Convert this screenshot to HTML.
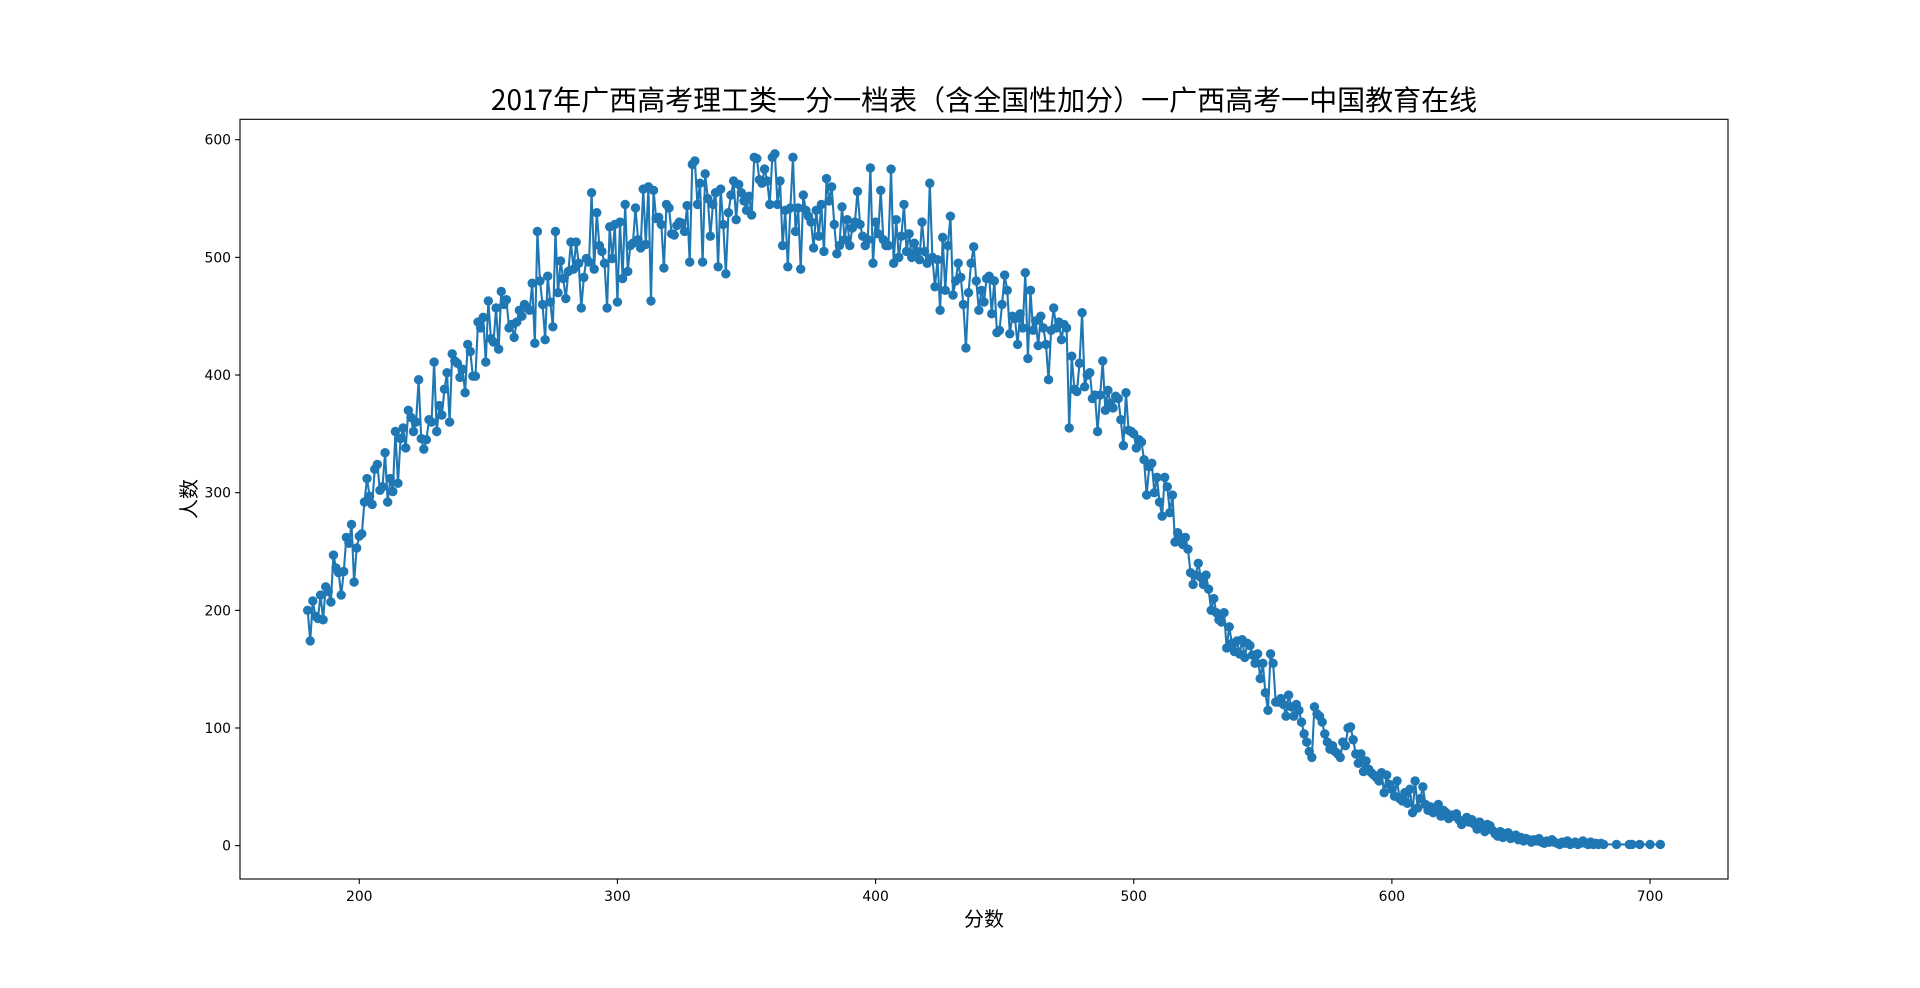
<!DOCTYPE html>
<html><head><meta charset="utf-8">
<style>
html,body{margin:0;padding:0;background:#fff;}
svg{display:block;}
text{font-family:"DejaVu Sans","Liberation Sans","Noto Sans CJK SC",sans-serif;fill:#000;}
.cjk{font-family:"Noto Sans CJK SC","WenQuanYi Zen Hei",sans-serif;}
</style></head>
<body>
<svg id="chart" width="1920" height="988" xmlns="http://www.w3.org/2000/svg">
<rect width="1920" height="988" fill="#fff"/>
<text class="cjk" x="984" y="110" font-size="28" text-anchor="middle">2017年广西高考理工类一分一档表（含全国性加分）一广西高考一中国教育在线</text>
<g id="plot"></g>
<rect x="240" y="119.3" width="1488" height="759.7" fill="none" stroke="#000" stroke-width="1.1"/>
<text class="cjk" x="984" y="926" font-size="20" text-anchor="middle">分数</text>
<text class="cjk" x="196" y="499" font-size="20" text-anchor="middle" transform="rotate(-90 196 499)">人数</text>
</svg>
<script>
const startScore = 180;
const mainValues = [
200,174,208,195,193,213,192,220,216,207,
247,236,232,213,233,262,257,273,224,253,
263,265,292,312,297,290,320,324,302,305,
334,292,312,301,352,308,346,355,338,370,
364,352,360,396,346,337,345,362,360,411,
352,374,366,388,402,360,418,412,410,398,
405,385,426,420,399,399,445,440,449,411,
463,431,428,457,422,471,460,464,440,443,
432,445,455,450,460,457,455,478,427,522,
480,460,430,484,462,441,522,470,497,482,
465,488,513,490,513,495,457,483,499,496,
555,490,538,510,505,495,457,526,499,528,
462,530,482,545,488,510,512,542,515,508,
558,511,560,463,557,533,534,528,491,545,
542,520,519,527,530,529,522,544,496,579,
582,545,563,496,571,550,518,545,555,492,
558,528,486,538,553,565,532,562,555,548,
540,552,536,585,584,566,563,575,565,545,
585,588,545,565,510,540,492,542,585,522,
542,490,553,540,535,530,508,540,518,545,
505,567,548,560,528,503,510,543,515,532,
510,525,530,556,528,518,510,515,576,495,
530,520,557,515,510,510,575,495,532,500,
518,545,505,520,500,512,505,498,530,505,
495,563,500,475,498,455,517,472,510,535,
468,480,495,483,460,423,470,495,509,480,
455,472,462,482,484,452,480,436,438,460,
485,472,435,450,448,426,452,440,487,414,
472,438,446,425,450,440,426,396,438,457,
440,445,430,443,440,355,416,388,386,410,
453,390,400,402,380,383,352,383,412,370,
387,376,372,382,380,362,340,385,353,352,
350,338,345,343,328,298,322,325,300,313,
292,280,313,305,283,298,258,266,262,256,
262,252,232,222,230,240,228,222,230,218,
200,210,198,192,190,198,168,186,172,165,
174,163,175,160,172,170,162,155,163,142,
155,130,115,163,155,122,122,125,120,110,
128,118,110,120,115,105,95,88,80,75,
118,112,110,105,95,88,82,85,80,78,
75,88,85,100,101,90,78,70,78,63,
72,65,62,60,58,55,62,45,60,52,
48,42,55,40,38,45,36,48,28,55,
32,40,50,35,30,33,28,30,35,25,
30,28,23,26,25,27,22,18,20,24,
20,22,18,14,20,15,12,18,17,13,
10,8,12,7,10,11,6,8,9,5,
7,4,6,5,3,5,4,6,3,2,
4,3,5,3,2,1,3,2,4,1,
2,3,1,2,4,2,1,3,1,2,
1,2,1
];
const tailScores = [687,692,693,696,700,704];
const tailValues = [1,1,1,1,1,1];
const xTicks = [200,300,400,500,600,700];
const yTicks = [0,100,200,300,400,500,600];

const NS = "http://www.w3.org/2000/svg";
const plot = document.getElementById('plot');
const scores = mainValues.map((v,i)=>startScore+i).concat(tailScores);
const values = mainValues.concat(tailValues);
const AX = {left:240,right:1728,top:119.3,bottom:879};
const xmin0=Math.min(...scores), xmax0=Math.max(...scores);
const ymin0=Math.min(...values), ymax0=Math.max(...values);
const xs=(xmax0-xmin0)*0.05, ys=(ymax0-ymin0)*0.05;
const xlo=xmin0-xs, xhi=xmax0+xs, ylo=ymin0-ys, yhi=ymax0+ys;
function xScale(v){return AX.left+(v-xlo)/(xhi-xlo)*(AX.right-AX.left);}
function yScale(v){return AX.bottom-(v-ylo)/(yhi-ylo)*(AX.bottom-AX.top);}

xTicks.forEach(t=>{
  const x=xScale(t);
  const l=document.createElementNS(NS,'line');
  l.setAttribute('x1',x);l.setAttribute('x2',x);l.setAttribute('y1',AX.bottom);l.setAttribute('y2',AX.bottom+4.9);
  l.setAttribute('stroke','#000');l.setAttribute('stroke-width','1.1');
  
  
  plot.appendChild(l);
  const tx=document.createElementNS(NS,'text');
  tx.setAttribute('x',x);tx.setAttribute('y',AX.bottom+22);tx.setAttribute('font-size','13.9');tx.setAttribute('text-anchor','middle');
  tx.textContent=t;
  
  
  plot.appendChild(tx);
});
yTicks.forEach(t=>{
  const y=yScale(t);
  const l=document.createElementNS(NS,'line');
  l.setAttribute('x1',AX.left-4.9);l.setAttribute('x2',AX.left);l.setAttribute('y1',y);l.setAttribute('y2',y);
  l.setAttribute('stroke','#000');l.setAttribute('stroke-width','1.1');
  
  
  plot.appendChild(l);
  const tx=document.createElementNS(NS,'text');
  tx.setAttribute('x',AX.left-9);tx.setAttribute('y',y+5);tx.setAttribute('font-size','13.9');tx.setAttribute('text-anchor','end');
  tx.textContent=t;
  
  
  plot.appendChild(tx);
});
const pts=scores.map((s,i)=>xScale(s).toFixed(2)+','+yScale(values[i]).toFixed(2)).join(' ');
const pl=document.createElementNS(NS,'polyline');
pl.setAttribute('points',pts);pl.setAttribute('fill','none');pl.setAttribute('stroke','#1f77b4');pl.setAttribute('stroke-width','2.1');pl.setAttribute('stroke-linejoin','round');


plot.appendChild(pl);
scores.forEach((s,i)=>{
  const c=document.createElementNS(NS,'circle');
  c.setAttribute('cx',xScale(s));c.setAttribute('cy',yScale(values[i]));c.setAttribute('r','4.7');c.setAttribute('fill','#1f77b4');
  
  
  plot.appendChild(c);
});
</script>
</body></html>
